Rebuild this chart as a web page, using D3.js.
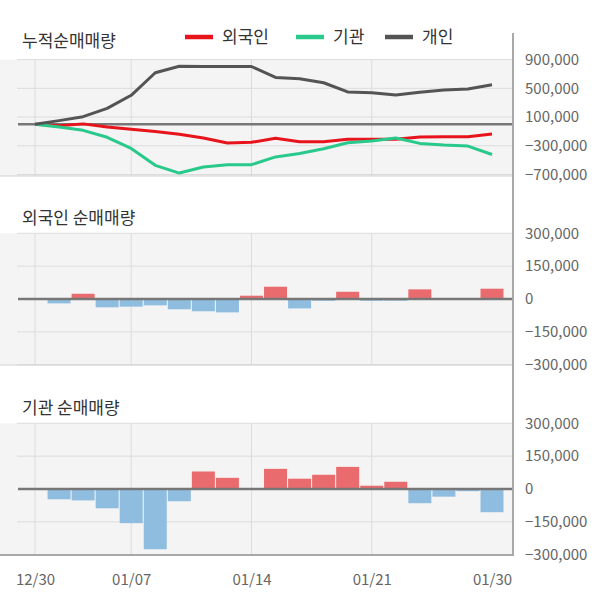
<!DOCTYPE html>
<html><head><meta charset="utf-8">
<script src="https://cdn.jsdelivr.net/npm/d3@7"></script>
<style>
html,body{margin:0;padding:0;background:#fff;}
svg{display:block;font-family:"Noto Sans CJK KR","Noto Sans",sans-serif;}
</style></head>
<body><svg id="c" width="600" height="604"></svg>
<script>
const dates = ["12/30","01/02","01/03","01/06","01/07","01/08","01/09","01/10","01/13","01/14","01/15","01/16","01/17","01/20","01/21","01/22","01/23","01/28","01/29","01/30"];
const tickDates = ["12/30","01/07","01/14","01/21","01/30"];
const gridDates = ["12/30","01/07","01/14","01/21"];
// cumulative net buying (top panel)
const foreignCum = [0,-20,5,-40,-69,-102,-139,-191,-262,-252,-196,-243,-243,-210,-210,-210,-178,-173,-173,-135].map(v=>v*1000);
const instCum = [0,-40,-85,-182,-337,-572,-680,-596,-563,-563,-455,-408,-342,-258,-234,-192,-267,-290,-304,-422].map(v=>v*1000);
const indivCum = [0,50,105,220,403,717,808,804,804,804,652,633,578,450,440,408,445,477,491,551].map(v=>v*1000);
// daily net buying
const foreignDaily = [null,-20,24,-38,-35,-29,-47,-56,-61,15,56,-43,-8,33,-8,-8,44,0,0,47].map(v=>v==null?null:v*1000);
const instDaily = [null,-47,-52,-88,-156,-275,-56,80,51,0,92,47,65,101,15,33,-65,-35,-10,-106].map(v=>v==null?null:v*1000);
const topTicks = [900000,500000,100000,-300000,-700000];
const barTicks = [300000,150000,0,-150000,-300000];
const seriesNames = ["외국인","기관","개인"];
const titles = ["누적순매매량","외국인 순매매량","기관 순매매량"];

const svg = d3.select("#c");
const X0 = 0, XR = 513;
const x = d3.scalePoint().domain(dates).range([35, 492]);
const fmt = d3.format(",");
const gridCol = "#dcdcdc", bgCol = "#f4f4f4", txtCol = "#666";
const fontFam = '"Noto Sans CJK KR","Noto Sans",sans-serif';

function panel(top, bottom, bgBottom, dataTop, dataBottom, ticks) {
  const y = d3.scaleLinear().domain([dataBottom, dataTop]).range([bottom, top]);
  const g = svg.append("g");
  g.append("rect").attr("x", X0).attr("y", top).attr("width", XR - X0).attr("height", bgBottom - top).attr("fill", bgCol);
  g.selectAll(".hg").data(ticks.filter(t => t !== 0)).join("line")
    .attr("x1", 17).attr("x2", XR).attr("y1", d => y(d)).attr("y2", d => y(d))
    .attr("stroke", gridCol).attr("stroke-width", 1);
  g.selectAll(".vg").data(gridDates).join("line")
    .attr("x1", d => x(d)).attr("x2", d => x(d)).attr("y1", top).attr("y2", bgBottom)
    .attr("stroke", gridCol).attr("stroke-width", 1);
  const ax = d3.axisRight(y).tickValues(ticks).tickSize(0).tickPadding(0).tickFormat(fmt);
  const ag = svg.append("g").attr("transform", "translate(525,0)").call(ax);
  ag.select(".domain").remove();
  ag.selectAll("text").attr("fill", txtCol).attr("font-size", 15).attr("font-family", fontFam);
  return {y, g};
}

// top panel
const p1 = panel(59.6, 174.5, 176, 900000, -700000, topTicks);
svg.append("line").attr("x1", 0).attr("x2", XR).attr("y1", 176).attr("y2", 176).attr("stroke", "#d0d0d0");
svg.append("line").attr("x1", 18).attr("x2", XR).attr("y1", p1.y(0)).attr("y2", p1.y(0)).attr("stroke", "#777").attr("stroke-width", 2.5);
const line1 = d3.line().x((d, i) => x(dates[i])).y(d => p1.y(d));
const lineCols = ["#e8141c", "#28c98b", "#545454"];
[foreignCum, instCum, indivCum].forEach((s, k) => {
  svg.append("path").datum(s).attr("d", line1).attr("fill", "none")
    .attr("stroke", lineCols[k]).attr("stroke-width", 3).attr("stroke-linejoin", "round");
});

// bar panels
function barPanel(top, bottom, data) {
  const p = panel(top, bottom, bottom, 300000, -300000, barTicks);
  const bw = 23;
  svg.append("g").selectAll("rect").data(data.map((v, i) => ({v, d: dates[i]})).filter(o => o.v != null && o.v !== 0))
    .join("rect")
    .attr("x", o => x(o.d) - bw / 2).attr("width", bw)
    .attr("y", o => p.y(Math.max(0, o.v))).attr("height", o => Math.abs(p.y(o.v) - p.y(0)))
    .attr("fill", o => o.v > 0 ? "#e96b6d" : "#8fbde0");
  svg.append("line").attr("x1", 18).attr("x2", XR).attr("y1", p.y(0)).attr("y2", p.y(0)).attr("stroke", "#777").attr("stroke-width", 2.5);
  return p;
}
barPanel(233.3, 364.7, foreignDaily);
svg.append("line").attr("x1", 0).attr("x2", XR).attr("y1", 365).attr("y2", 365).attr("stroke", "#d0d0d0");
barPanel(423.3, 554.7, instDaily);

// axes lines
svg.append("line").attr("x1", 0).attr("x2", XR + 1).attr("y1", 555).attr("y2", 555).attr("stroke", "#a8a8a8").attr("stroke-width", 2);
svg.append("line").attr("x1", XR).attr("x2", XR).attr("y1", 33).attr("y2", 556).attr("stroke", "#a8a8a8").attr("stroke-width", 2);

// x axis labels
const xa = d3.axisBottom(x).tickValues(tickDates).tickSize(0).tickPadding(0);
const xg = svg.append("g").attr("transform", "translate(0,570)").call(xa);
xg.select(".domain").remove();
xg.selectAll("text").attr("fill", txtCol).attr("font-size", 15).attr("dy", "0.32em").attr("y", 10)
  .attr("font-family", fontFam);

// titles
const titleY = [41, 218, 408];
titles.forEach((t, i) => {
  svg.append("text").attr("x", 22).attr("y", titleY[i]).attr("dy", "0.35em")
    .attr("font-size", 17).attr("fill", "#333").text(t);
});

// legend
const legX = [185, 296, 385];
seriesNames.forEach((n, i) => {
  svg.append("line").attr("x1", legX[i]).attr("x2", legX[i] + 28).attr("y1", 37).attr("y2", 37)
    .attr("stroke", lineCols[i]).attr("stroke-width", 4.5);
  svg.append("text").attr("x", legX[i] + 37).attr("y", 37).attr("dy", "0.35em")
    .attr("font-size", 17).attr("fill", "#333").text(n);
});
</script></body></html>
